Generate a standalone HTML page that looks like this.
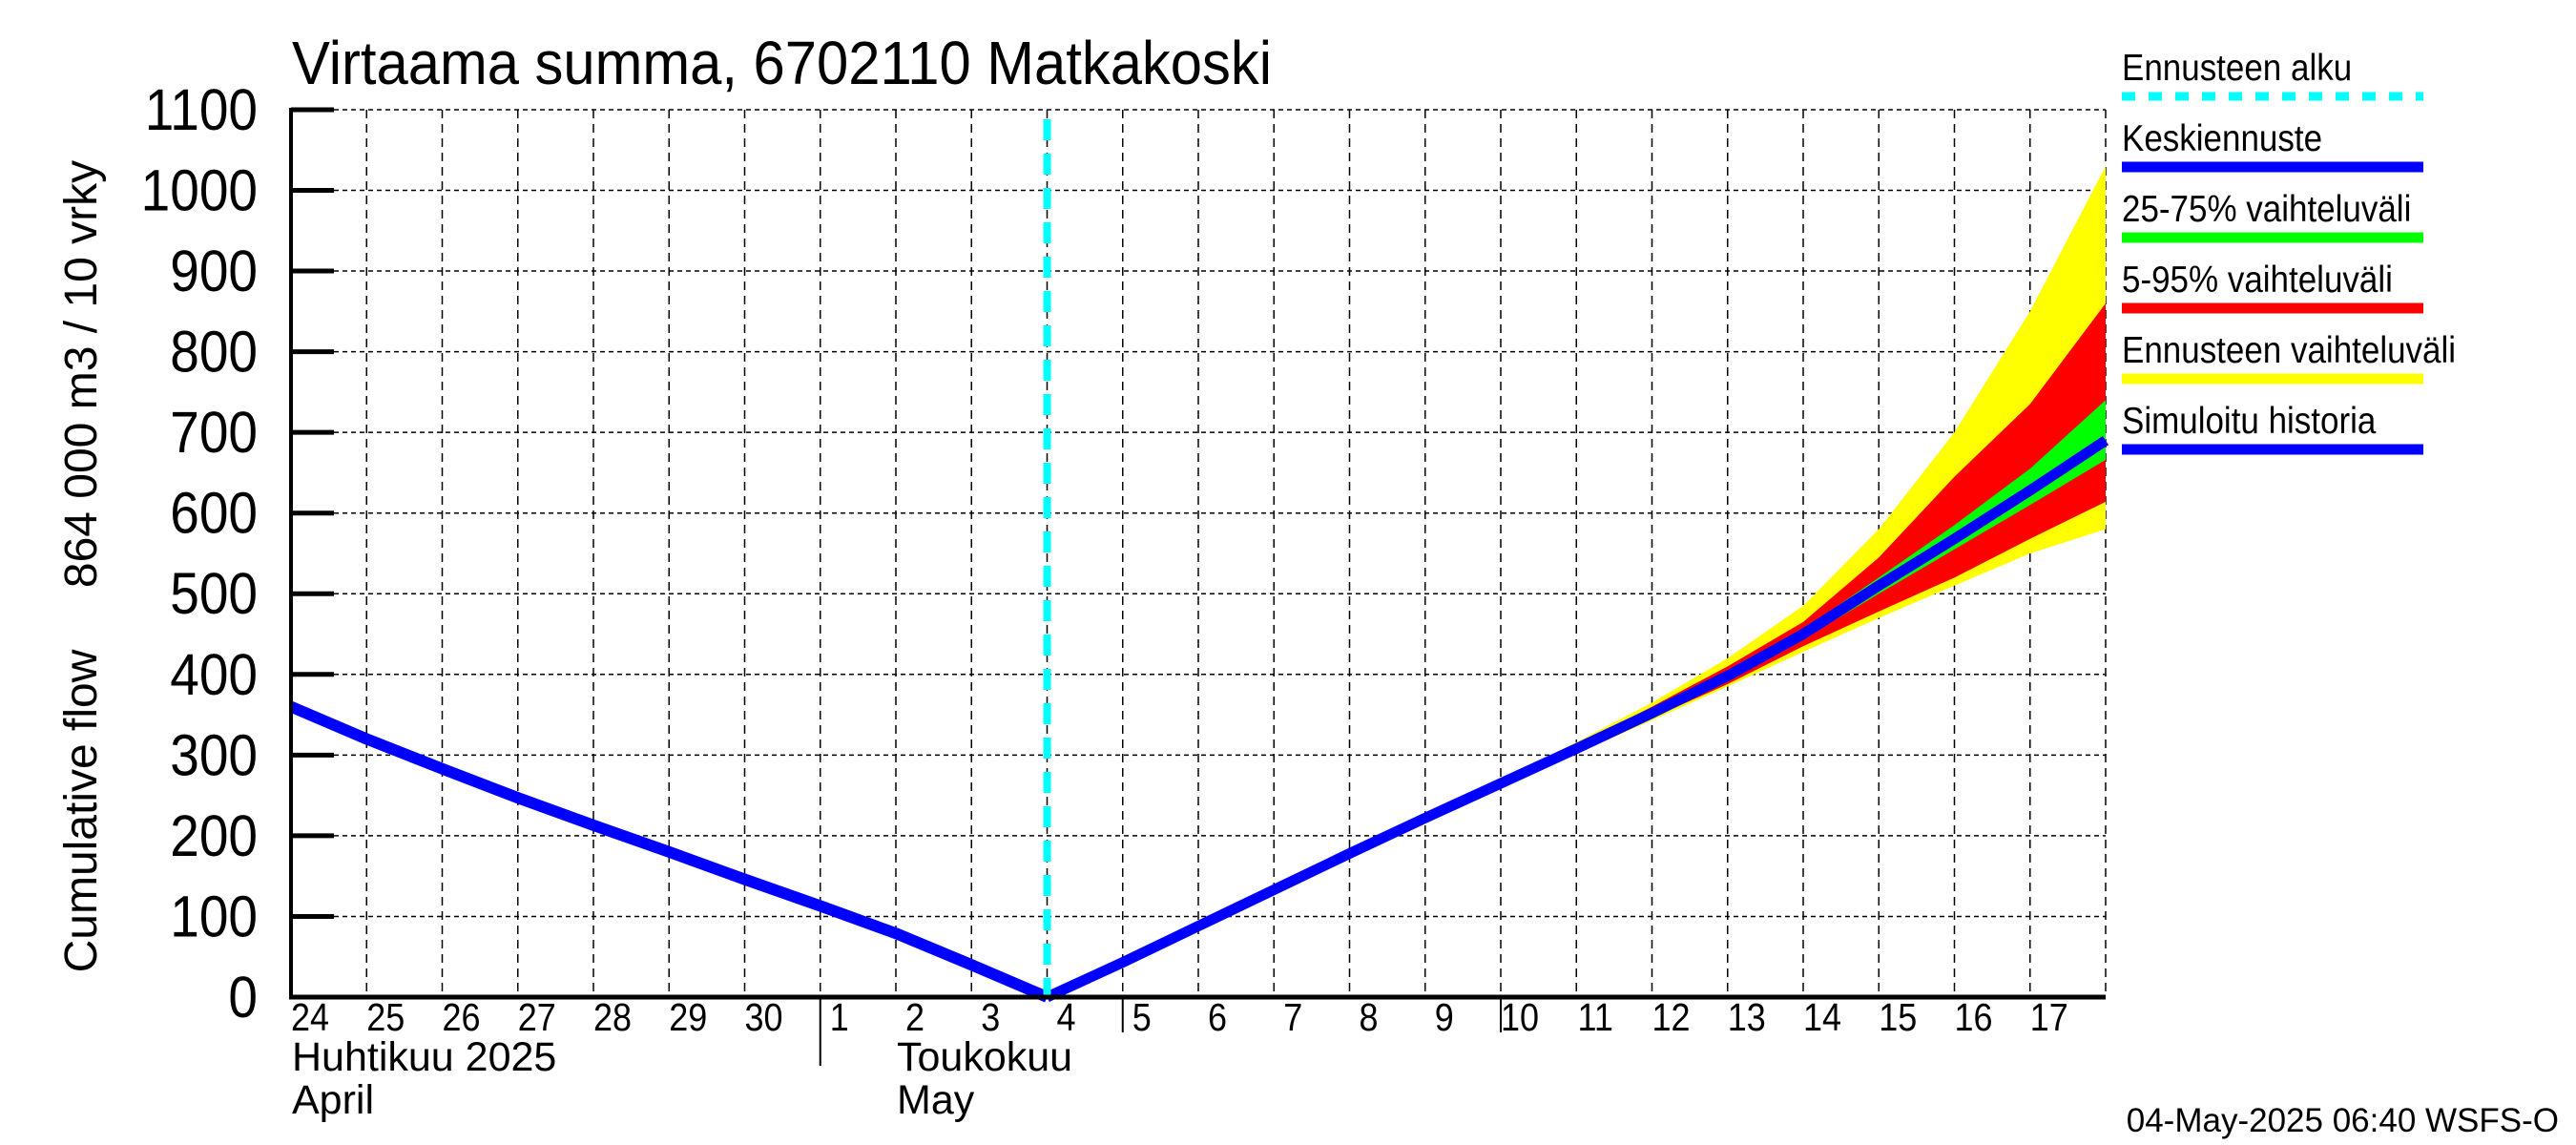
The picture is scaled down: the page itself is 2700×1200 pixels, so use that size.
<!DOCTYPE html>
<html><head><meta charset="utf-8"><style>
html,body{margin:0;padding:0;background:#fff}
svg{display:block}
text{font-family:"Liberation Sans",sans-serif;fill:#000}
</style></head><body>
<svg id="chart" xmlns="http://www.w3.org/2000/svg" width="2700" height="1200" viewBox="0 0 2700 1200">
<rect width="2700" height="1200" fill="#fff"/>
<g id="grid"></g>
<g id="bands"></g>
<g id="lines"></g>
<g id="axes"></g>
<text x="306" y="88" font-size="58" transform="translate(306,88) scale(1.03,1.1) translate(-306,-88)">Virtaama summa, 6702110 Matkakoski</text>
<text transform="translate(101,392) rotate(-90)" font-size="48" text-anchor="middle">864 000 m3 / 10 vrky</text>
<text transform="translate(101,850) rotate(-90)" font-size="48" text-anchor="middle">Cumulative flow</text>
<text x="306" y="1122" font-size="43">Huhtikuu  2025</text>
<text x="306" y="1167" font-size="43">April</text>
<text x="940" y="1122" font-size="43">Toukokuu</text>
<text x="940" y="1167" font-size="43">May</text>
<text x="2682" y="1186" font-size="35" text-anchor="end">04-May-2025 06:40 WSFS-O</text>
<g id="legend"></g>
</svg>
<script>
// data
const dayLabels=["24","25","26","27","28","29","30","1","2","3","4","5","6","7","8","9","10","11","12","13","14","15","16","17"];
const yTicks=[0,100,200,300,400,500,600,700,800,900,1000,1100];
const histDays=[0,1,2,3,4,5,6,7,8,9,10];
const histValues=[360,320,283,247,213,180,146,113,79,40,0];
const fcDays=[10,11,12,13,14,15,16,17,18,19,20,21,22,23,24];
const meanValues=[0,43,88,133,178,222,265,308,352,398,450,510,568,628,690];
const bandDays=[14,15,16,17,18,19,20,21,22,23,24];
const yellowHi=[178,225,270,316,365,420,485,580,700,850,1030];
const yellowLo=[178,220,262,302,343,385,428,470,510,550,580];
const redHi=[178,224,268,312,360,410,465,545,645,735,860];
const redLo=[178,221,263,304,346,388,435,478,520,568,614];
const greenHi=[178,223,266,310,355,402,456,520,585,655,740];
const greenLo=[178,222,264,306,350,394,444,500,555,610,666];
const forecastStartDay=10;

const X0=305,DX=79.25,Y0=1045,YS=0.8455;
const xs=d=>X0+d*DX, ys=v=>Y0-v*YS;
const NS="http://www.w3.org/2000/svg";
function mk(tag,parent,attrs){const e=document.createElementNS(NS,tag);for(const k in attrs)e.setAttribute(k,attrs[k]);parent.appendChild(e);return e;}
const grid=document.getElementById('grid'),bands=document.getElementById('bands'),lines=document.getElementById('lines'),axes=document.getElementById('axes'),legend=document.getElementById('legend');
const XR=xs(dayLabels.length);
yTicks.forEach(v=>{
 if(v>0){const l=mk('line',grid,{x1:X0,x2:XR,y1:ys(v),y2:ys(v),stroke:'#000','stroke-width':1.5,'stroke-dasharray':'5,4'});
 
 }
 const t=mk('line',axes,{x1:X0,x2:X0+45,y1:ys(v),y2:ys(v),stroke:'#000','stroke-width':5});
 
 
 const ty=ys(v)+21;
 const tx=mk('text',axes,{x:270,y:ty,'font-size':55,'text-anchor':'end',transform:`translate(0,${ty}) scale(1,1.12) translate(0,${-ty})`});tx.textContent=v;
 
 
});
dayLabels.forEach((lab,i)=>{
 if(i>0){const l=mk('line',grid,{x1:xs(i),x2:xs(i),y1:ys(1100),y2:Y0,stroke:'#000','stroke-width':1.5,'stroke-dasharray':'9,6'});
 
 }
 const tx=mk('text',axes,{x:xs(i)+20,y:1080,'font-size':36,'text-anchor':'middle',transform:'translate(0,1080) scale(1,1.12) translate(0,-1080)'});tx.textContent=lab;
 
 
});
mk('line',grid,{x1:XR,x2:XR,y1:ys(1100),y2:Y0,stroke:'#000','stroke-width':1.5,'stroke-dasharray':'9,6'});
function band(hi,lo,color,name){
 const pts=bandDays.map((d,i)=>xs(d)+','+ys(hi[i])).concat(bandDays.map((d,i)=>xs(d)+','+ys(lo[i])).reverse());
 const p=mk('polygon',bands,{points:pts.join(' '),fill:color});
 
 
}
band(yellowHi,yellowLo,'#ffff00','band-forecast-range');
band(redHi,redLo,'#ff0000','band-5-95');
band(greenHi,greenLo,'#00ff00','band-25-75');
const h=mk('polyline',lines,{points:histDays.map((d,i)=>xs(d)+','+ys(histValues[i])).join(' '),fill:'none',stroke:'#0000ff','stroke-width':12,'stroke-linejoin':'round'});


const m=mk('polyline',lines,{points:fcDays.map((d,i)=>xs(d)+','+ys(meanValues[i])).join(' '),fill:'none',stroke:'#0000ff','stroke-width':11,'stroke-linejoin':'round'});


const c=mk('line',lines,{x1:xs(forecastStartDay),x2:xs(forecastStartDay),y1:125,y2:Y0,stroke:'#00ffff','stroke-width':8,'stroke-dasharray':'22,14'});


// axes
mk('line',axes,{x1:X0,x2:X0,y1:ys(1100)-2,y2:Y0+2,stroke:'#000','stroke-width':4});
mk('line',axes,{x1:X0-2,x2:XR,y1:Y0,y2:Y0,stroke:'#000','stroke-width':5});
mk('line',axes,{x1:xs(7),x2:xs(7),y1:Y0,y2:1117,stroke:'#000','stroke-width':2});
[11,16].forEach(d=>mk('line',axes,{x1:xs(d),x2:xs(d),y1:Y0,y2:1082,stroke:'#000','stroke-width':2}));
// legend
const leg=[["Ennusteen alku","#00ffff",true],["Keskiennuste","#0000ff"],["25-75% vaihteluväli","#00ff00"],["5-95% vaihteluväli","#ff0000"],["Ennusteen vaihteluväli","#ffff00"],["Simuloitu historia","#0000ff"]];
leg.forEach((e,i)=>{
 const y=84+i*74;
 const g=mk('g',legend,{});
 
 
 const t=mk('text',g,{x:2224,y:y,'font-size':35,transform:`translate(0,${y}) scale(1,1.12) translate(0,${-y})`});t.textContent=e[0];
 const a={x1:2224,x2:2540,y1:y+17,y2:y+17,stroke:e[1],'stroke-width':e[2]?9:11};
 if(e[2])a['stroke-dasharray']='14,14';
 mk('line',g,a);
});
</script>
</body></html>
